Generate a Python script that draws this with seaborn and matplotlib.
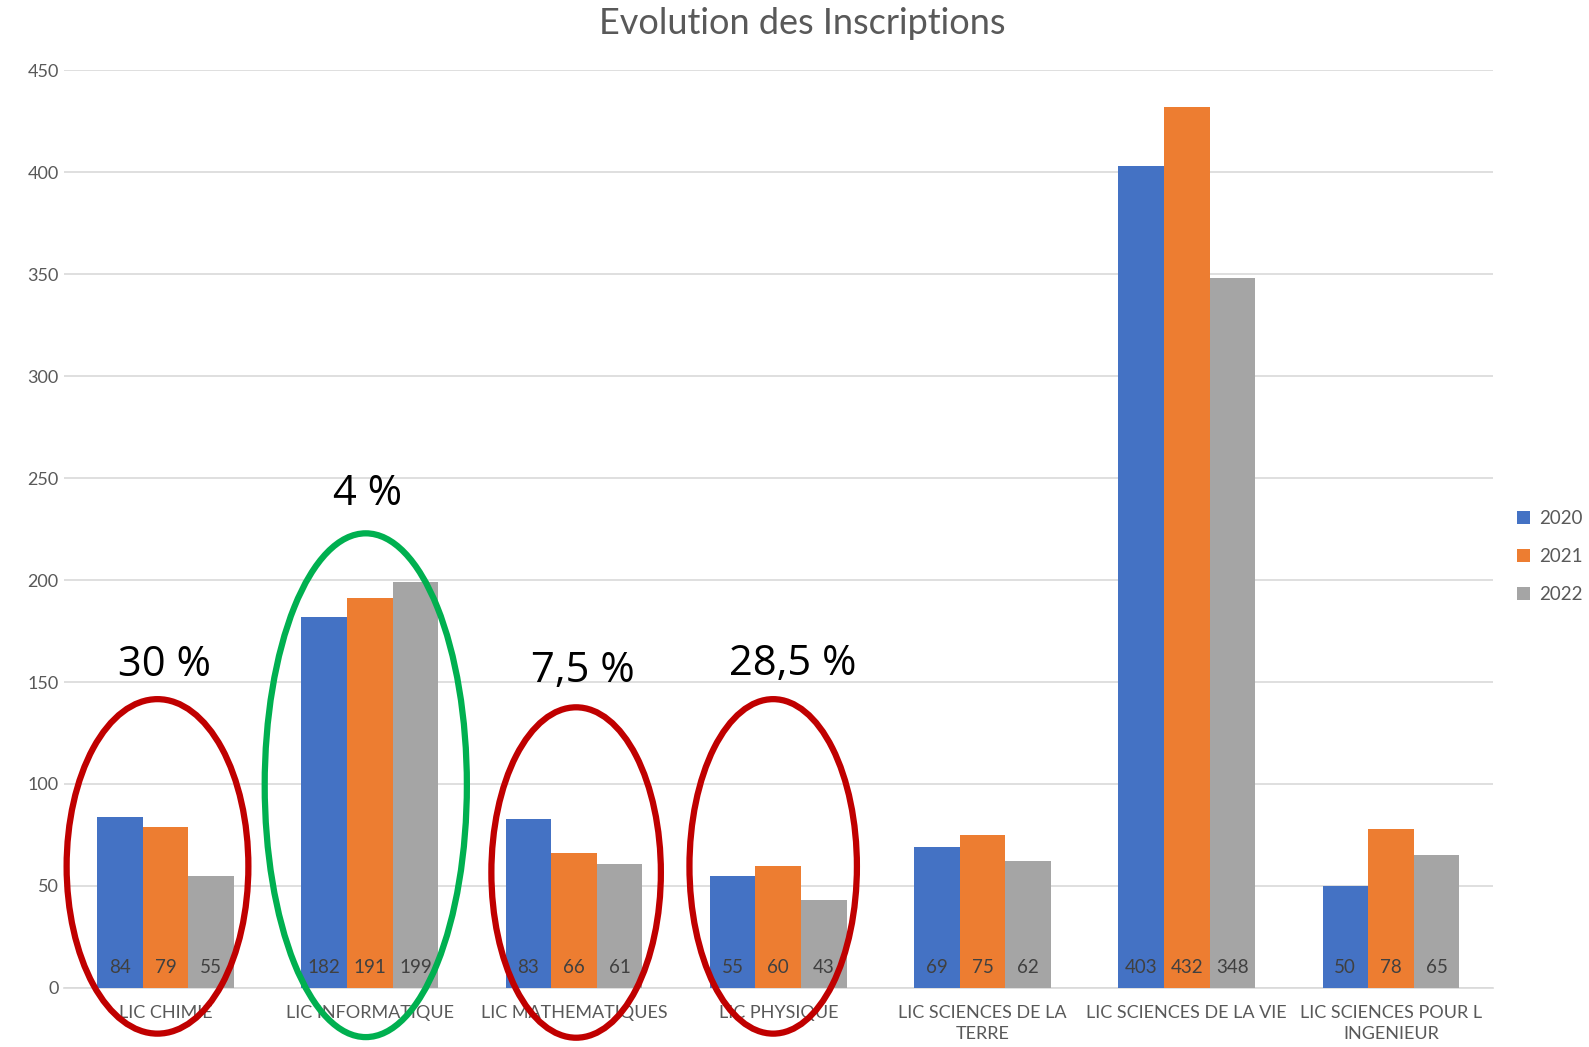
import pandas as pd
import seaborn as sns
import matplotlib.pyplot as plt
from matplotlib.patches import Ellipse

# Dati
filieres = ["LIC CHIMIE", "LIC INFORMATIQUE", "LIC MATHEMATIQUES", "LIC PHYSIQUE",
            "LIC SCIENCES DE LA\nTERRE", "LIC SCIENCES DE LA VIE",
            "LIC SCIENCES POUR L\nINGENIEUR"]
annees = ["2020", "2021", "2022"]
v2020 = [84, 182, 83, 55, 69, 403, 50]
v2021 = [79, 191, 66, 60, 75, 432, 78]
v2022 = [55, 199, 61, 43, 62, 348, 65]
couleurs = ["#4472C4", "#ED7D31", "#A5A5A5"]

# annotazioni (percentuali sopra le ellissi)
pct_labels = ["30 %", "4 %", "7,5 %", "28,5 %"]
pct_cats = [0, 1, 2, 3]

df = pd.DataFrame({
    "filiere": filieres * 3,
    "annee": [a for a in annees for _ in filieres],
    "val": v2020 + v2021 + v2022,
})

sns.set_style("white")
plt.rcParams['font.family'] = ['Lato', 'DejaVu Sans']

fig = plt.figure(figsize=(15.89, 10.47), dpi=100)
ax = fig.add_axes([0.040, 0.0564, 0.8996, 0.8766])

sns.barplot(data=df, x="filiere", y="val", hue="annee", palette=couleurs,
            width=0.67, saturation=1, ax=ax, errorbar=None, zorder=3, linewidth=0)

# etichette dei valori in basso dentro le barre
for cont in ax.containers:
    for rect in cont:
        ax.text(rect.get_x() + rect.get_width() / 2, 10, f"{int(rect.get_height())}",
                ha="center", va="center", fontsize=13.5, color="#404040", zorder=4)

ax.set_ylim(0, 450)
ax.set_xlim(-0.5, 6.5)
ax.set_yticks(range(0, 451, 50))
ax.yaxis.grid(True, color="#D9D9D9", linewidth=1.2, zorder=0)
ax.set_axisbelow(True)
ax.set_xlabel("")
ax.set_ylabel("")
ax.tick_params(axis="both", length=0, labelsize=13, labelcolor="#595959")
ax.tick_params(axis="x", pad=12)
for lbl in ax.get_xticklabels():
    lbl.set_linespacing(1.45)
for s in ["top", "right", "left"]:
    ax.spines[s].set_visible(False)
ax.spines["bottom"].set_color("#D9D9D9")
ax.spines["bottom"].set_linewidth(1.2)

ax.set_title("Evolution des Inscriptions", fontsize=26, color="#595959", pad=26, x=0.517)

# legenda a destra
handles, labels = ax.get_legend_handles_labels()
leg = ax.legend(handles, labels, loc="center left", bbox_to_anchor=(1.005, 0.47),
                frameon=False, fontsize=13.5, handlelength=0.7, handleheight=0.7,
                labelspacing=1.1, handletextpad=0.5)
for t in leg.get_texts():
    t.set_color("#595959")

# ellissi
ellissi = [(-0.04, 59.6, 0.89, 164, "#C00000"),
           (-0.02, 99.4, 0.99, 247, "#00B050"),
           (0.01, 56.6, 0.83, 162, "#C00000"),
           (-0.025, 59.6, 0.82, 164, "#C00000")]
for i, (dx, cy, w, h, col) in enumerate(ellissi):
    e = Ellipse((i + dx, cy), w, h, fill=False, edgecolor=col, linewidth=4.5,
                clip_on=False, zorder=5)
    ax.add_patch(e)

pct_pos = [(-0.005, 158.5), (-0.01, 242), (0.045, 155.5), (0.07, 159)]
for c, lab, (dx, y) in zip(pct_cats, pct_labels, pct_pos):
    ax.text(c + dx, y, lab, ha="center", va="center", fontsize=30,
            color="black", family=["Open Sans", "DejaVu Sans"], zorder=6)

fig.savefig("out.png", dpi=100)
